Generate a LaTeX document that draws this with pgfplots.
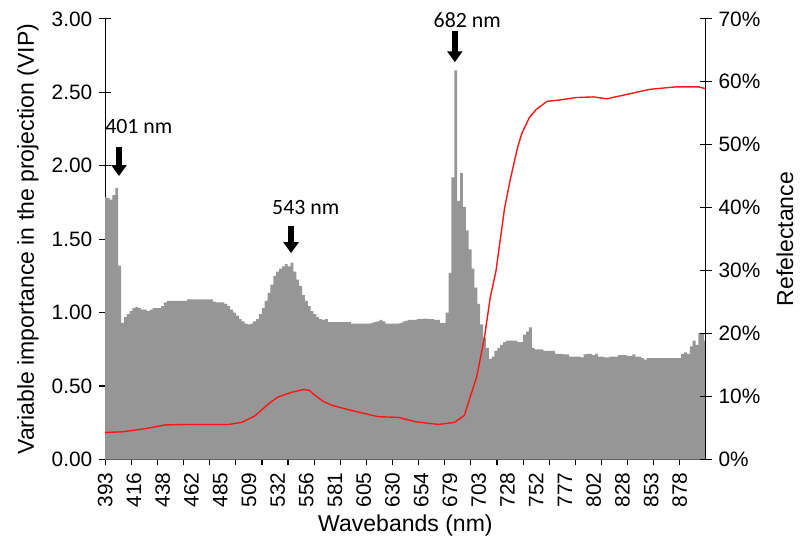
\documentclass[border=0pt]{standalone}
\usepackage{pgfplots}
\usepackage{pgfplotstable}
\pgfplotsset{compat=1.18}
\usepackage{fontspec}
\setmainfont{Liberation Sans}
\newfontfamily\notefont{Carlito}
\usetikzlibrary{arrows.meta}
\definecolor{vipgray}{RGB}{150,150,150}
\definecolor{reflred}{RGB}{255,20,20}

% VIP score of each waveband (one value per band, in band order)
\pgfplotstableread[row sep=\\]{
vip\\
1.79\\ 1.78\\ 1.77\\ 1.80\\ 1.85\\ 1.32\\ 0.93\\ 0.97\\ 0.99\\ 1.01\\
1.03\\ 1.04\\ 1.03\\ 1.02\\ 1.02\\ 1.01\\ 1.02\\ 1.03\\ 1.03\\ 1.03\\
1.045\\ 1.07\\ 1.08\\ 1.08\\ 1.08\\ 1.08\\ 1.08\\ 1.08\\ 1.08\\ 1.09\\
1.09\\ 1.09\\ 1.09\\ 1.09\\ 1.09\\ 1.09\\ 1.09\\ 1.09\\ 1.075\\ 1.07\\
1.07\\ 1.07\\ 1.06\\ 1.045\\ 1.02\\ 1.00\\ 0.98\\ 0.955\\ 0.94\\ 0.925\\
0.92\\ 0.925\\ 0.94\\ 0.955\\ 0.99\\ 1.03\\ 1.08\\ 1.135\\ 1.19\\ 1.25\\
1.28\\ 1.30\\ 1.315\\ 1.33\\ 1.315\\ 1.34\\ 1.28\\ 1.225\\ 1.18\\ 1.12\\
1.08\\ 1.045\\ 1.01\\ 0.99\\ 0.97\\ 0.955\\ 0.95\\ 0.955\\ 0.935\\ 0.935\\
0.935\\ 0.935\\ 0.935\\ 0.935\\ 0.935\\ 0.935\\ 0.925\\ 0.925\\ 0.925\\ 0.925\\
0.925\\ 0.925\\ 0.925\\ 0.93\\ 0.935\\ 0.94\\ 0.95\\ 0.94\\ 0.925\\ 0.925\\
0.925\\ 0.925\\ 0.925\\ 0.93\\ 0.94\\ 0.945\\ 0.95\\ 0.95\\ 0.95\\ 0.955\\
0.955\\ 0.96\\ 0.96\\ 0.955\\ 0.955\\ 0.95\\ 0.95\\ 0.93\\ 0.93\\ 1.00\\
1.27\\ 1.92\\ 2.65\\ 1.76\\ 1.95\\ 1.72\\ 1.56\\ 1.43\\ 1.30\\ 1.17\\
1.06\\ 0.92\\ 0.83\\ 0.76\\ 0.685\\ 0.70\\ 0.74\\ 0.76\\ 0.78\\ 0.80\\
0.81\\ 0.81\\ 0.81\\ 0.81\\ 0.80\\ 0.80\\ 0.85\\ 0.87\\ 0.90\\ 0.76\\
0.75\\ 0.75\\ 0.75\\ 0.74\\ 0.74\\ 0.74\\ 0.74\\ 0.72\\ 0.72\\ 0.72\\
0.715\\ 0.715\\ 0.70\\ 0.70\\ 0.70\\ 0.70\\ 0.695\\ 0.715\\ 0.72\\ 0.72\\
0.71\\ 0.72\\ 0.70\\ 0.70\\ 0.695\\ 0.695\\ 0.70\\ 0.70\\ 0.70\\ 0.71\\
0.71\\ 0.71\\ 0.705\\ 0.705\\ 0.715\\ 0.70\\ 0.70\\ 0.69\\ 0.68\\ 0.69\\
0.69\\ 0.69\\ 0.69\\ 0.69\\ 0.69\\ 0.69\\ 0.69\\ 0.69\\ 0.69\\ 0.69\\
0.69\\ 0.72\\ 0.73\\ 0.72\\ 0.77\\ 0.81\\ 0.78\\ 0.86\\ 0.86\\ 0.81\\
}\viptable

% mean reflectance (%) against band index
\pgfplotstableread{
band refl
0 4.3
6 4.4
14 4.9
21 5.5
30 5.57
43 5.57
47.5 5.9
52 6.9
57 8.9
60 9.9
65 10.7
69 11.1
71 11.0
73 10.2
76 9.2
79 8.6
85.6 7.8
95 6.8
102 6.7
108 6.0
116 5.57
121.6 5.9
125 7.0
127 9.9
129.3 13.1
130.2 15.2
132 19.4
134 25.7
136 29.9
139 39.9
141 44.5
143.5 49.5
145 51.8
147.6 54.3
150 55.6
153.8 56.9
158 57.1
164 57.5
170 57.6
174.6 57.3
181.6 58.0
189.5 58.8
194 59.0
198.9 59.2
206.5 59.2
209 58.9
}\refltable

\newcommand\labelfont{\fontsize{11.6}{14}\selectfont}

\begin{document}
\begin{tikzpicture}
\pgfplotsset{
  common/.style={
    scale only axis, width=302.5pt, height=222pt,
    xmin=0, xmax=209,
    tick align=center, major tick length=6pt, minor tick length=6pt,
    every tick/.style={black, line width=0.6pt},
    axis line style={black, line width=0.6pt},
    tick label style={font=\fontsize{10.5}{12}\selectfont},
    /pgf/number format/assume math mode=true,
  }
}
\begin{axis}[common, name=main,
  axis x line*=bottom, axis y line*=left,
  clip mode=individual,
  ymin=0, ymax=3,
  ytick={0,0.5,1,1.5,2,2.5,3},
  yticklabel style={/pgf/number format/.cd, fixed, fixed zerofill, precision=2},
  xtick={0,10,...,200},
  xticklabels={393,416,438,462,485,509,532,556,581,605,630,654,679,703,728,752,777,802,828,853,878},
  x tick label style={rotate=90, anchor=east},
  major x tick style={draw=none},
  minor xtick={0,9.0909,...,200.1},
  xlabel={Wavebands (nm)},
  ylabel={Variable importance in the projection (VIP)},
  every axis x label/.style={at={(axis description cs:0.5,-0.15)}, anchor=center, font=\labelfont},
  every axis y label/.style={at={(axis description cs:-0.1289,0.5)}, rotate=90, anchor=center, font=\labelfont},
]
\addplot[const plot mark mid, fill=vipgray, draw=none]
  table[x expr=\coordindex, y=vip] {\viptable} \closedcycle;

% peak markers
\node[font=\notefont\fontsize{11}{13}\selectfont] at (axis cs:11.7,2.27) {401 nm};
\draw[line width=3.3pt, -{Triangle[length=5.5pt,width=7.5pt]}] (axis cs:4.8,2.13) -- (axis cs:4.8,1.93);
\node[font=\notefont\fontsize{11}{13}\selectfont] at (axis cs:69.8,1.716) {543 nm};
\draw[line width=3.3pt, -{Triangle[length=5.5pt,width=7.5pt]}] (axis cs:64.7,1.59) -- (axis cs:64.7,1.405);
\node[font=\notefont\fontsize{11}{13}\selectfont] at (axis cs:126,2.993) {682 nm};
\draw[line width=3.3pt, -{Triangle[length=5.5pt,width=7.5pt]}] (axis cs:121.7,2.914) -- (axis cs:121.7,2.705);
\end{axis}

\begin{axis}[common,
  axis y line*=right, axis x line=none,
  ymin=0, ymax=70,
  ytick={0,10,...,70},
  yticklabel={\pgfmathprintnumber{\tick}\%},
  ylabel={Refelectance},
  every axis y label/.style={at={(axis description cs:1.132,0.5)}, rotate=90, anchor=center, font=\labelfont},
]
\addplot[reflred, line width=0.7pt] table[x=band, y=refl] {\refltable};
\end{axis}

\path ([shift={(-53pt,-42pt)}]main.south west) rectangle ++(400pt,273.5pt);
\end{tikzpicture}
\end{document}
